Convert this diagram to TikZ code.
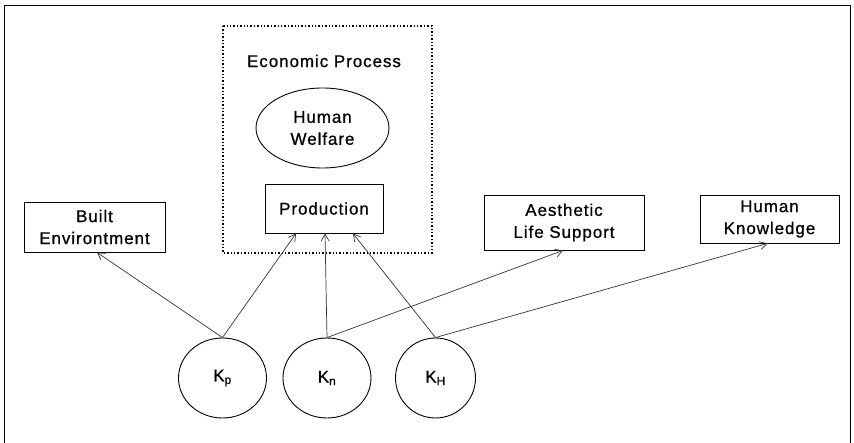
\documentclass[tikz,border=0pt]{standalone}
\usepackage{fontspec}
\setmainfont{Liberation Sans}[LetterSpace=5.5,FakeBold=0.8]
\usetikzlibrary{shapes.geometric,arrows.meta}
\begin{document}
\begin{tikzpicture}[x=1pt,y=-1pt,
  lbl/.style={font=\fontsize{17}{22}\selectfont, align=center, inner sep=0pt},
  boxn/.style={draw, line width=0.9pt, lbl, minimum width=#1},
  kell/.style={draw, line width=0.9pt, ellipse, lbl, minimum width=88pt, minimum height=80pt},
  conn/.style={draw=black!80, line width=0.7pt, -{Straight Barb[length=7pt,width=8pt]}}]
\useasboundingbox (0,0) rectangle (854,443);
% outer frame (open at bottom)
\draw[line width=0.9pt] (4,443) -- (4,5) -- (850,5) -- (850,443);
% dotted economic process box
\draw[dotted, line width=1.4pt] (223,26) rectangle (432,253);
\node[lbl] (ep) at (324,61) {Economic Process};
\node[draw, line width=0.9pt, ellipse, lbl, minimum width=133pt, minimum height=80pt] (hw) at (322.5,128) {Human\\Welfare};
\node[boxn=118pt, minimum height=49pt] (prod) at (324,208.5) {Production};
\node[boxn=141pt, minimum height=50pt] (be) at (94.5,227) {Built\\Environtment};
\node[boxn=160pt, minimum height=55pt] (als) at (564,222.5) {Aesthetic\\Life Support};
\node[boxn=139pt, minimum height=48pt] (hk) at (769.5,219) {Human\\Knowledge};
\node[kell] (kp) at (222.5,378) {K\textsubscript{p}};
\node[kell] (kn) at (327,378) {K\textsubscript{n}};
\node[kell, minimum width=80pt] (kh) at (435.5,378) {K\textsubscript{H}};
% connectors
\draw[conn] (kp.north) -- ([xshift=2.5pt]be.south);
\draw[conn] (kp.north) -- ([xshift=-28pt]prod.south);
\draw[conn] (kn.north) -- ([xshift=1pt]prod.south);
\draw[conn] (kh.north) -- ([xshift=29pt]prod.south);
\draw[conn] (kn.north) -- ([xshift=-1pt]als.south);
\draw[conn] (kh.north) -- ([xshift=-2pt]hk.south);
\end{tikzpicture}
\end{document}
